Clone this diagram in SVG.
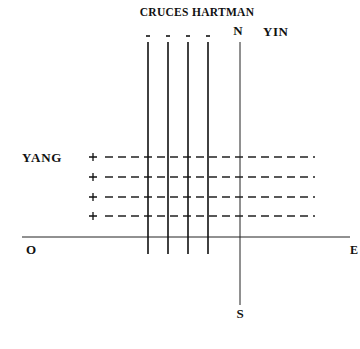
<svg xmlns="http://www.w3.org/2000/svg" width="360" height="349" viewBox="0 0 360 349">
<style>
.t{font-family:"Liberation Serif",serif;font-weight:bold;fill:#111}
.v{stroke:#111;stroke-width:1.6;fill:none}
.d{stroke:#222;stroke-width:1.3;stroke-dasharray:8 5;fill:none}
.a{stroke:#222;stroke-width:1;fill:none}
.p{stroke:#111;stroke-width:1.3;fill:none}
.m{stroke:#111;stroke-width:1.6;fill:none}
</style>
<rect width="360" height="349" fill="#fff"/>
<text class="t" x="197" y="16" font-size="11.5" text-anchor="middle" letter-spacing="0.3">CRUCES HARTMAN</text>
<g id="connectors">
<line class="a" x1="22" y1="237" x2="350" y2="237"/>
<line class="a" x1="240" y1="42" x2="240" y2="305"/>
<line class="d" x1="105" y1="157" x2="315" y2="157"/>
<line class="d" x1="105" y1="177" x2="315" y2="177"/>
<line class="d" x1="105" y1="197" x2="315" y2="197"/>
<line class="d" x1="105" y1="216" x2="315" y2="216"/>
<line class="v" x1="148" y1="42" x2="148" y2="254"/>
<line class="v" x1="168" y1="42" x2="168" y2="254"/>
<line class="v" x1="188" y1="42" x2="188" y2="254"/>
<line class="v" x1="208" y1="42" x2="208" y2="254"/>
</g>
<g id="minus-marks" class="m">
<line x1="146" y1="36" x2="150" y2="36"/>
<line x1="166" y1="36" x2="170" y2="36"/>
<line x1="186" y1="36" x2="190" y2="36"/>
<line x1="206" y1="36" x2="210" y2="36"/>
</g>
<g id="plus-marks" class="p">
<path d="M89 157h8M93 153v8"/>
<path d="M89 177h8M93 173v8"/>
<path d="M89 197h8M93 193v8"/>
<path d="M89 216h8M93 212v8"/>
</g>
<g id="N"><text class="t" x="238" y="35" font-size="13" text-anchor="middle">N</text></g>
<g id="YIN"><text class="t" x="263" y="36" font-size="13" letter-spacing="0.5">YIN</text></g>
<g id="YANG"><text class="t" x="22" y="162" font-size="13" letter-spacing="0.8">YANG</text></g>
<g id="O"><text class="t" x="26" y="254" font-size="13">O</text></g>
<g id="E"><text class="t" x="350" y="254" font-size="12">E</text></g>
<g id="S"><text class="t" x="240" y="318" font-size="13" text-anchor="middle">S</text></g>
</svg>
